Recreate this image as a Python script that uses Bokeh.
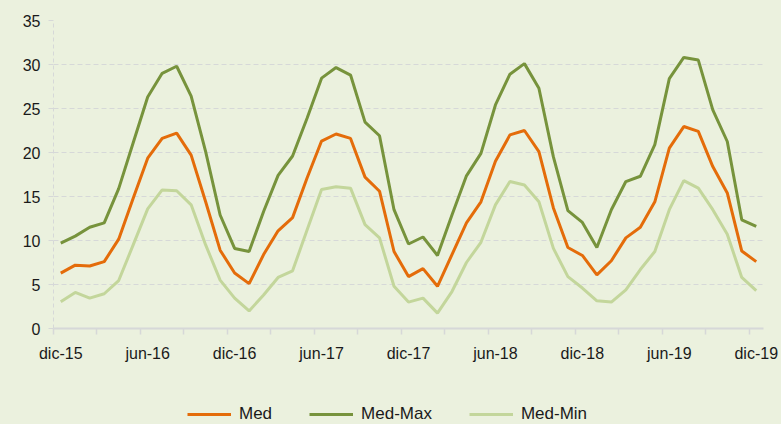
from bokeh.plotting import figure
from bokeh.layouts import column
from bokeh.models import (Range1d, FixedTicker, Legend, LegendItem, ColumnDataSource,
                          GlobalInlineStyleSheet)
from bokeh.embed import file_html
from bokeh.resources import INLINE

# ---- data (monthly, dic-15 .. dic-19) ----
tick_labels = ["dic-15", "jun-16", "dic-16", "jun-17", "dic-17",
               "jun-18", "dic-18", "jun-19", "dic-19"]
months = list(range(49))

med = [6.3, 7.2, 7.1, 7.6, 10.15, 14.8, 19.35, 21.6, 22.2, 19.7, 14.4, 8.9,
       6.3, 5.1, 8.4, 11.1, 12.6, 17.1, 21.3, 22.1, 21.6, 17.2, 15.6, 8.75,
       5.9, 6.8, 4.8, 8.4, 12.0, 14.4, 19.0, 22.0, 22.5, 20.1, 13.7, 9.2,
       8.3, 6.1, 7.7, 10.3, 11.5, 14.4, 20.5, 22.95, 22.4, 18.4, 15.4, 8.8,
       7.6]
med_max = [9.7, 10.5, 11.5, 12.0, 15.9, 21.1, 26.3, 29.0, 29.8, 26.4, 20.1, 12.9,
           9.1, 8.75, 13.3, 17.4, 19.6, 23.9, 28.45, 29.65, 28.8, 23.45, 21.9, 13.5,
           9.6, 10.4, 8.3, 12.9, 17.35, 19.9, 25.4, 28.9, 30.1, 27.3, 19.5, 13.4,
           12.05, 9.2, 13.5, 16.7, 17.3, 20.9, 28.4, 30.8, 30.5, 24.85, 21.25, 12.35,
           11.6]
med_min = [3.05, 4.1, 3.45, 3.95, 5.45, 9.5, 13.6, 15.75, 15.65, 14.05, 9.5, 5.5,
           3.45, 2.0, 3.8, 5.8, 6.55, 11.2, 15.8, 16.1, 15.95, 11.8, 10.3, 4.8,
           3.0, 3.45, 1.75, 4.2, 7.5, 9.8, 14.05, 16.7, 16.3, 14.4, 9.1, 5.9,
           4.6, 3.15, 3.0, 4.4, 6.7, 8.75, 13.5, 16.8, 15.95, 13.5, 10.7, 5.8,
           4.3]
y_ticks = [0, 5, 10, 15, 20, 25, 30, 35]
series_names = ["Med", "Med-Max", "Med-Min"]
series_cols = ["med", "med_max", "med_min"]

BG = "#EBF1DE"
C_MED = "#E46C0A"
C_MAX = "#77933C"
C_MIN = "#C3D69B"
GRID = "#D6D8D8"
FONT = "Liberation Sans"
colors = [C_MED, C_MAX, C_MIN]

src = ColumnDataSource(dict(x=months, med=med, med_max=med_max, med_min=med_min))

p = figure(width=781, height=400, output_backend="svg", toolbar_location=None,
           x_range=Range1d(-0.5, 48.5), y_range=Range1d(0, 35),
           min_border_left=53, min_border_right=18, min_border_top=20,
           min_border_bottom=72,
           background_fill_color=BG, border_fill_color=BG, outline_line_color=None)

for col, c in zip(series_cols, colors):
    p.line("x", col, source=src, line_color=c, line_width=3)

# x axis: labels at category centres, tick marks at category boundaries
label_pos = [months[i] for i in range(0, len(months), 6)]
p.xaxis.ticker = FixedTicker(ticks=label_pos,
                             minor_ticks=[m - 0.5 for m in range(0, 49, 3)])
p.xaxis.major_label_overrides = {pos: lab for pos, lab in zip(label_pos, tick_labels)}
p.xaxis.major_tick_line_color = None
p.xaxis.minor_tick_line_color = GRID
p.xaxis.minor_tick_line_width = 1.5
p.xaxis.minor_tick_out = 6
p.xaxis.minor_tick_in = 0
p.xaxis.axis_line_color = GRID
p.xaxis.axis_line_width = 2
p.xaxis.major_label_standoff = 10
p.xaxis.major_label_text_font = FONT
p.xaxis.major_label_text_font_size = "16px"
p.xaxis.major_label_text_color = "#1a1a1a"

# y axis
p.yaxis.ticker = FixedTicker(ticks=y_ticks)
p.yaxis.axis_line_color = GRID
p.yaxis.axis_line_dash = "4 3"
p.yaxis.major_tick_line_color = GRID
p.yaxis.major_tick_out = 5
p.yaxis.major_tick_in = 0
p.yaxis.minor_tick_line_color = None
p.yaxis.major_label_standoff = 8
p.yaxis.major_label_text_font = FONT
p.yaxis.major_label_text_font_size = "16px"
p.yaxis.major_label_text_color = "#1a1a1a"

p.xgrid.grid_line_color = None
p.ygrid.grid_line_color = GRID
p.ygrid.grid_line_dash = "5 3"
p.ygrid.grid_line_width = 1.2

# ---- legend strip under the chart (same series, drawn out of view) ----
leg = figure(width=781, height=24, output_backend="svg", toolbar_location=None,
             x_range=Range1d(-0.5, 48.5), y_range=Range1d(100, 101),
             x_axis_location=None, y_axis_location=None,
             min_border_left=0, min_border_right=0, min_border_top=0,
             min_border_bottom=0, background_fill_color=BG, border_fill_color=BG,
             outline_line_color=None)
leg.grid.visible = False
items = []
for name, col, c in zip(series_names, series_cols, colors):
    r = leg.line("x", col, source=src, line_color=c, line_width=3)
    items.append(LegendItem(label=name, renderers=[r]))
legend = Legend(items=items, orientation="horizontal", location=(134, 0),
                padding=0, margin=0, spacing=37,
                glyph_width=44, glyph_height=20, label_standoff=8,
                label_text_font=FONT, label_text_font_size="17px",
                label_text_color="#1a1a1a",
                background_fill_alpha=0, border_line_color=None)
leg.add_layout(legend)

layout = column(p, leg, spacing=0)
layout.stylesheets = [GlobalInlineStyleSheet(css="body { background-color: %s; }" % BG)]

open("out.html", "w").write(file_html(layout, INLINE))
